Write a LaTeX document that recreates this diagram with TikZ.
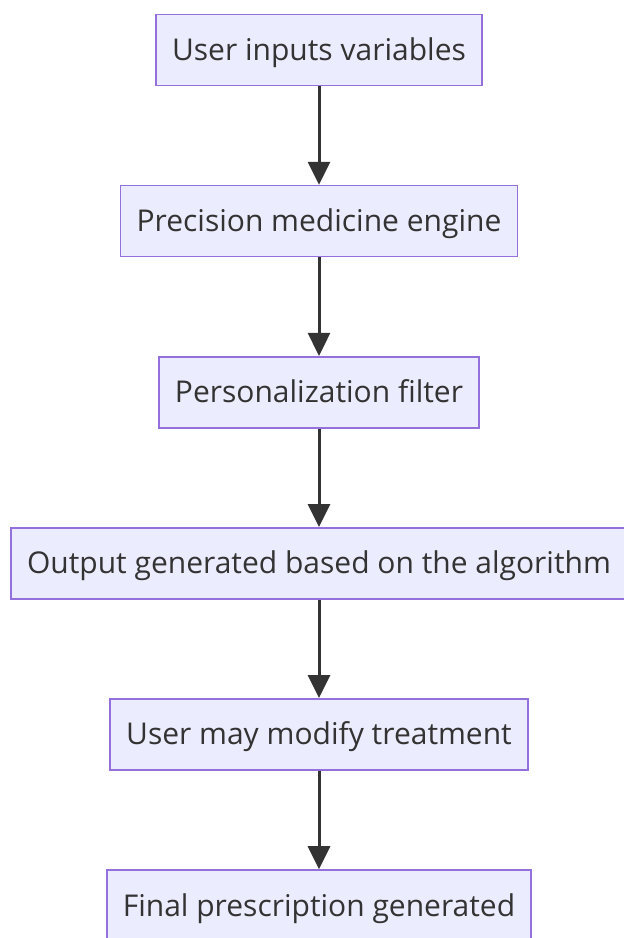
\documentclass[tikz,border=0pt]{standalone}
\usepackage{fontspec}
\setmainfont{Open Sans}
\usetikzlibrary{positioning,arrows.meta}

\definecolor{boxfill}{HTML}{ECECFF}
\definecolor{boxline}{HTML}{9370DB}
\definecolor{ink}{HTML}{333333}

\begin{document}
\begin{tikzpicture}[x=1pt, y=1pt,
    stage/.style={draw=boxline, fill=boxfill, line width=1.6pt, text=ink,
        minimum height=71pt, inner xsep=16pt, text height=22pt, text depth=1pt,
        font=\fontsize{30}{36}\selectfont},
    flow/.style={draw=ink, line width=3pt, -{Triangle[length=23pt, width=22pt]}},
    node distance=98.5pt]
    \useasboundingbox (0,0) rectangle (624,-938);

    \node[stage] (inputs) at (319,-50) {User inputs variables};
    \node[stage, below=of inputs] (engine) {Precision medicine engine};
    \node[stage, below=of engine] (filter) {Personalization filter};
    \node[stage, below=of filter] (output) {Output generated based on the algorithm};
    \node[stage, below=of output] (modify) {User may modify treatment};
    \node[stage, below=of modify] (final) {Final prescription generated};

    \foreach \a/\b in {inputs/engine, engine/filter, filter/output, output/modify, modify/final}
        \draw[flow] (\a) -- (\b);
\end{tikzpicture}
\end{document}
